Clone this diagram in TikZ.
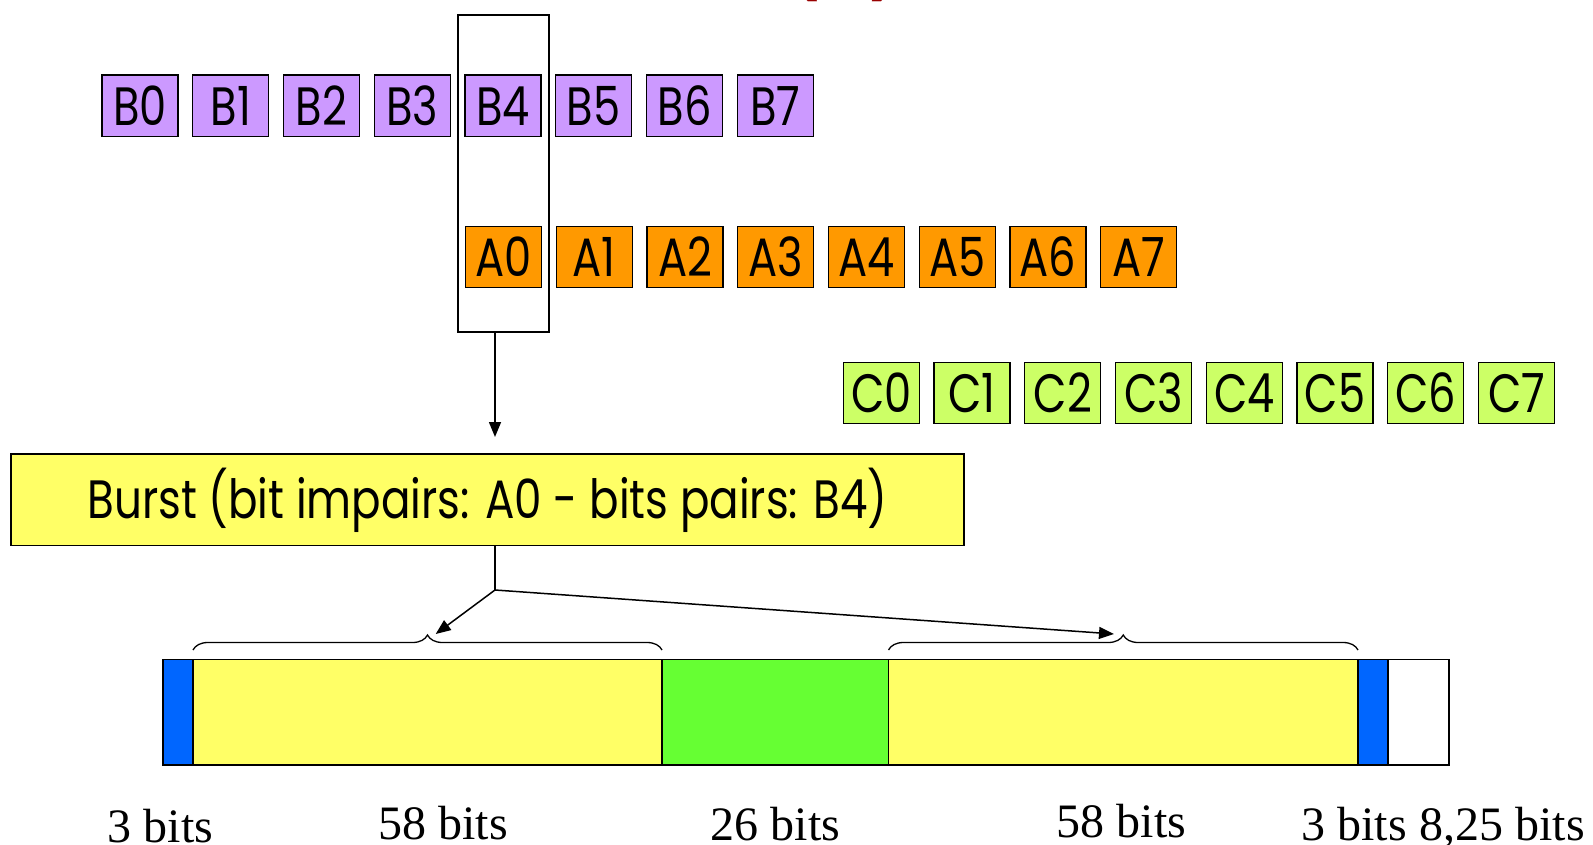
\documentclass[tikz,border=0pt]{standalone}
\usepackage{fontspec}
\usepackage{graphicx}
\newfontfamily\gfont{Poppins}
\newfontfamily\tfont{Liberation Serif}
\usetikzlibrary{arrows.meta,decorations.pathreplacing}
\definecolor{bpurple}{HTML}{CC99FF}
\definecolor{aorange}{HTML}{FF9900}
\definecolor{cgreen}{HTML}{CCFF66}
\definecolor{byellow}{HTML}{FFFF66}
\definecolor{barblue}{HTML}{0066FF}
\definecolor{bargreen}{HTML}{66FF33}
\definecolor{titlered}{HTML}{990000}
\newcommand{\gl}[1]{\scalebox{0.8}[1]{\gfont\fontsize{54}{60}\selectfont #1}}
\tikzset{
  cell/.style={draw=black, line width=1.3pt, minimum width=76pt, minimum height=61.5pt, inner sep=0pt},
  seg/.style={draw=black, line width=1.3pt},
  conn/.style={draw=black, line width=1.5pt},
  arr/.style={conn, -{Triangle[length=15pt,width=12pt]}},
  brc/.style={draw=black, line width=1.3pt, decorate, decoration={brace, amplitude=15pt}},
  bitlbl/.style={anchor=base, inner sep=0pt, font=\tfont\fontsize{48}{52}\selectfont}
}
\begin{document}
\begin{tikzpicture}[x=1pt,y=-1pt]
\useasboundingbox (0,0) rectangle (1593,845);
% clipped title
\node[anchor=base, inner sep=0pt, text=titlered, font=\gfont\bfseries\fontsize{54}{60}\selectfont] (title) at (845,-9) {(\hspace{53pt})};
% selection rectangle
\node[draw=black, line width=1.5pt, minimum width=91pt, minimum height=317pt, inner sep=0pt] (sel) at (503.5,173.5) {};
\foreach \i in {0,...,7} {
  \node[cell, fill=bpurple] (B\i) at ({140+90.75*\i},105.75) {\gl{B\i}};
  \node[cell, fill=aorange] (A\i) at ({503.5+90.75*\i},257) {\gl{A\i}};
  \node[cell, fill=cgreen] (C\i) at ({881.3+90.75*\i},393) {\gl{C\i}};
}
% burst box
\node[draw=black, line width=1.3pt, fill=byellow, minimum width=953pt, minimum height=91.6pt, inner sep=0pt] (burst) at (487.6,499.8) {\scalebox{1.01}[1]{\gl{Burst (bit impairs: A0 - bits pairs: B4)}}};
\coordinate (t1) at (495,437);
\draw[arr] (sel.south -| t1) -- (t1);
% bar segments
\node[seg, fill=barblue, minimum width=30pt, minimum height=105.5pt, inner sep=0pt] (s1) at (178,712.25) {};
\node[seg, fill=byellow, minimum width=469pt, minimum height=105.5pt, inner sep=0pt] (s2) at (427.5,712.25) {};
\node[seg, fill=bargreen, minimum width=226.5pt, minimum height=105.5pt, inner sep=0pt] (s3) at (775.25,712.25) {};
\node[seg, fill=byellow, minimum width=469.5pt, minimum height=105.5pt, inner sep=0pt] (s4) at (1123.25,712.25) {};
\node[seg, fill=barblue, minimum width=30pt, minimum height=105.5pt, inner sep=0pt] (s5) at (1373,712.25) {};
\node[seg, fill=white, minimum width=61pt, minimum height=105.5pt, inner sep=0pt] (s6) at (1418.5,712.25) {};
% braces
\coordinate (b1l) at (193,650);
\coordinate (b1r) at (662,650);
\coordinate (b2l) at (888.5,650);
\coordinate (b2r) at (1358,650);
\draw[brc] (b1l) -- (b1r);
\draw[brc] (b2l) -- (b2r);
% connectors from burst
\coordinate (j) at (495,590);
\coordinate (t2) at (435.7,634);
\coordinate (t3) at (1114,634);
\draw[conn] (burst.south -| j) -- (j);
\draw[arr] (j) -- (t2);
\draw[arr] (j) -- (t3);
% bit labels
\node[bitlbl] (l1) at (160.4,842) {3 bits};
\node[bitlbl] (l2) at (443,839) {58 bits};
\node[bitlbl] (l3) at (775.5,840) {26 bits};
\node[bitlbl] (l4) at (1121.5,837) {58 bits};
\node[bitlbl] (l5) at (1354,840) {3 bits};
\node[bitlbl] (l6) at (1502,840) {8,25 bits};
\end{tikzpicture}
\end{document}
